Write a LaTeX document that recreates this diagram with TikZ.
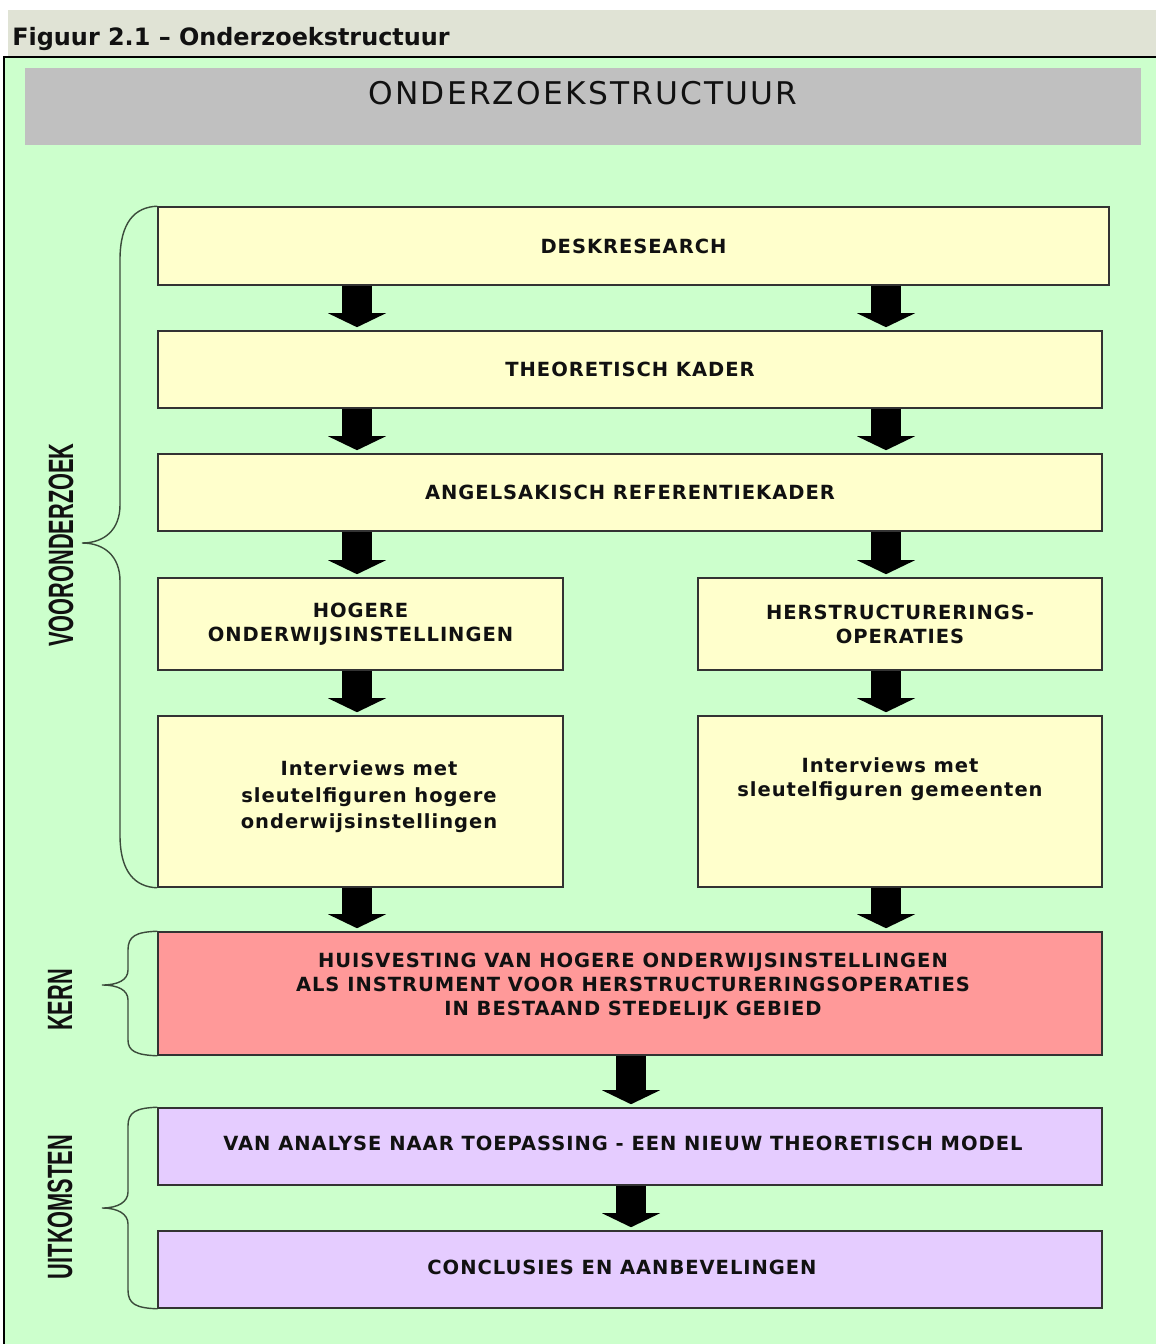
\documentclass[tikz,border=0pt]{standalone}
\usepackage{fontspec}
\setmainfont{DejaVu Sans}
\newfontfamily\boxfont[LetterSpace=5]{DejaVu Sans}
\newfontfamily\titlefont[LetterSpace=7]{DejaVu Sans}
\newfontfamily\sidefont[FakeStretch=0.62]{Liberation Sans}
\newfontfamily\headfont{DejaVu Sans}
\usetikzlibrary{arrows.meta,calc}

\definecolor{panelgreen}{HTML}{CCFFCC}
\definecolor{headbg}{HTML}{E0E3D5}
\definecolor{titlegray}{HTML}{C0C0C0}
\definecolor{boxyellow}{HTML}{FFFFCC}
\definecolor{boxred}{HTML}{FF9999}
\definecolor{boxlilac}{HTML}{E5CCFF}
\definecolor{boxline}{HTML}{333333}
\definecolor{braceline}{HTML}{3B4B3B}
\definecolor{ink}{HTML}{111111}

\tikzset{
  stage/.style={draw=boxline, line width=0.9pt, fill=boxyellow, inner sep=0pt,
    align=center, text=ink, font=\boxfont\bfseries\fontsize{11.1}{13.6}\selectfont},
  corebox/.style={stage, fill=boxred},
  outbox/.style={stage, fill=boxlilac},
  boxtext/.style={align=center, text=ink, inner sep=0pt,
    font=\boxfont\bfseries\fontsize{11.1}{13.6}\selectfont},
  bigarrow/.style={black, line width=0.6cm,
    -{Triangle[width=1.16cm,length=0.28cm,line width=0pt]}},
  bracket/.style={draw=braceline, line width=0.8pt},
  sidelabel/.style={rotate=90, text=ink, inner sep=0pt,
    font=\sidefont\bfseries\fontsize{20}{20}\selectfont}
}

\begin{document}
\begin{tikzpicture}[x=0.02cm,y=-0.02cm]
\useasboundingbox (0,0) rectangle (1156,1344);
\fill[white] (0,0) rectangle (1156,1344);

% caption band
\fill[headbg] (8,10) rectangle (1156,57);
\node[anchor=base west, inner sep=0pt, text=ink,
      font=\headfont\bfseries\fontsize{13.6}{15}\selectfont] (caption) at (12,46)
  {Figuur 2.1 – Onderzoekstructuur};

% green panel
\fill[panelgreen] (4,57) rectangle (1156,1344);
\draw[black, line width=1.1pt] (4,1344) -- (4,57) -- (1156,57);

% title bar
\node[fill=titlegray, minimum width=22.32cm, minimum height=1.54cm, inner sep=0pt] (titlebar) at (583,106.5) {};
\node[text=ink, inner sep=0pt, font=\titlefont\fontsize{17.8}{20}\selectfont] (title) at (583,93) {ONDERZOEKSTRUCTUUR};

% stages
\node[stage, minimum width=19.02cm, minimum height=1.56cm] (desk) at (633.5,246) {DESKRESEARCH};
\node[stage, minimum width=18.88cm, minimum height=1.54cm] (theo) at (630,369.5) {THEORETISCH KADER};
\node[stage, minimum width=18.88cm, minimum height=1.54cm] (angl) at (630,492.5) {ANGELSAKISCH REFERENTIEKADER};
\node[stage, minimum width=8.1cm, minimum height=1.84cm] (hoger) at (360.5,624) {HOGERE\\ONDERWIJSINSTELLINGEN};
\node[stage, minimum width=8.08cm, minimum height=1.84cm] (herstr) at (900,624) {HERSTRUCTURERINGS-\\OPERATIES};
\node[stage, minimum width=8.1cm, minimum height=3.42cm] (intL) at (360.5,801.5) {};
\node[boxtext, font=\boxfont\bfseries\fontsize{11.1}{15}\selectfont] (intLtext) at (369,797)
  {Interviews met\\sleutelfiguren hogere\\onderwijsinstellingen};
\node[stage, minimum width=8.08cm, minimum height=3.42cm] (intR) at (900,801.5) {};
\node[boxtext] (intRtext) at (890,779) {Interviews met\\sleutelfiguren gemeenten};
\node[corebox, minimum width=18.88cm, minimum height=2.46cm] (core) at (630,993.5) {};
\node[boxtext] (coretext) at (633,986)
  {HUISVESTING VAN HOGERE ONDERWIJSINSTELLINGEN\\ALS INSTRUMENT VOOR HERSTRUCTURERINGSOPERATIES\\IN BESTAAND STEDELIJK GEBIED};
\node[outbox, minimum width=18.88cm, minimum height=1.54cm] (model) at (630,1146.5) {};
\node[boxtext] (modeltext) at (623,1143)
  {VAN ANALYSE NAAR TOEPASSING - EEN NIEUW THEORETISCH MODEL};
\node[outbox, minimum width=18.88cm, minimum height=1.54cm] (concl) at (630,1269.5) {};
\node[boxtext] (concltext) at (622,1267) {CONCLUSIES EN AANBEVELINGEN};

% arrow columns
\coordinate (colL) at (357,0);
\coordinate (colR) at (886,0);
\coordinate (colM) at (631,0);

\draw[bigarrow] (desk.south -| colL) -- ($(theo.north -| colL)+(0,-3)$);
\draw[bigarrow] (desk.south -| colR) -- ($(theo.north -| colR)+(0,-3)$);
\draw[bigarrow] (theo.south -| colL) -- ($(angl.north -| colL)+(0,-3)$);
\draw[bigarrow] (theo.south -| colR) -- ($(angl.north -| colR)+(0,-3)$);
\draw[bigarrow] (angl.south -| colL) -- ($(hoger.north -| colL)+(0,-3)$);
\draw[bigarrow] (angl.south -| colR) -- ($(herstr.north -| colR)+(0,-3)$);
\draw[bigarrow] (hoger.south -| colL) -- ($(intL.north -| colL)+(0,-3)$);
\draw[bigarrow] (herstr.south -| colR) -- ($(intR.north -| colR)+(0,-3)$);
\draw[bigarrow] (intL.south -| colL) -- ($(core.north -| colL)+(0,-3)$);
\draw[bigarrow] (intR.south -| colR) -- ($(core.north -| colR)+(0,-3)$);
\draw[bigarrow] (core.south -| colM) -- ($(model.north -| colM)+(0,-3)$);
\draw[bigarrow] (model.south -| colM) -- ($(concl.north -| colM)+(0,-3)$);

% braces
\draw[bracket] (desk.north west) .. controls (135,207) and (120,222) .. (120,260)
  -- (120,505) .. controls (120,530) and (104,543) .. (82,543)
  .. controls (104,543) and (120,556) .. (120,581)
  -- (120,835) .. controls (120,872) and (135,887) .. (intL.south west);
\draw[bracket] (core.north west) .. controls (136,932) and (128,936) .. (128,950)
  -- (128,970) .. controls (128,980) and (118,985) .. (102,985)
  .. controls (118,985) and (128,990) .. (128,1000)
  -- (128,1040) .. controls (128,1051) and (136,1055) .. (core.south west);
\draw[bracket] (model.north west) .. controls (136,1108) and (128,1112) .. (128,1126)
  -- (128,1192) .. controls (128,1202) and (118,1208) .. (102,1208)
  .. controls (118,1208) and (128,1214) .. (128,1224)
  -- (128,1290) .. controls (128,1304) and (136,1308) .. (concl.south west);

% side labels
\node[sidelabel] (pre) at (61,545) {VOORONDERZOEK};
\node[sidelabel] (kern) at (60,1000) {KERN};
\node[sidelabel] (uit) at (60,1207) {UITKOMSTEN};
\end{tikzpicture}
\end{document}
